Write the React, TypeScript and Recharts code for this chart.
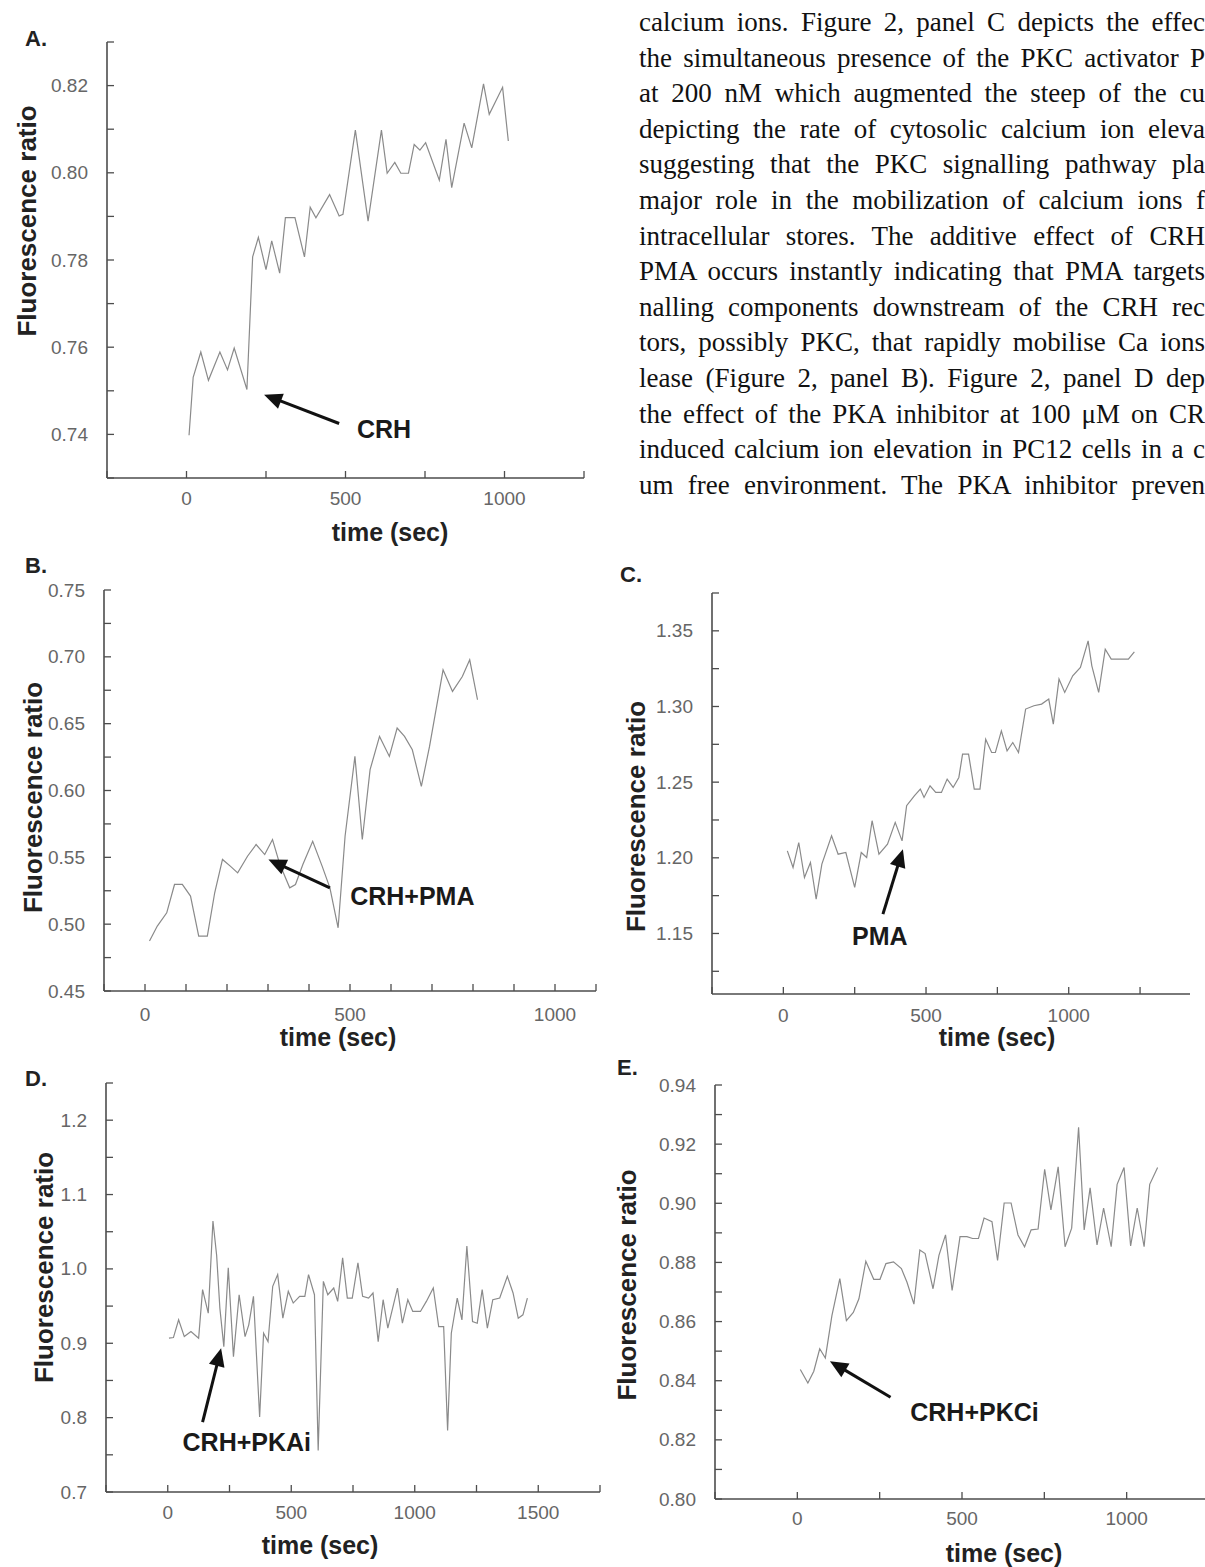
import React from "react";
import { LineChart, Line, XAxis, YAxis, ReferenceLine, ReferenceDot } from "recharts";

// ---- panel A: CRH ----
const timeA = [8, 21, 45, 69, 105, 129, 150, 190, 208, 226, 250, 268, 293, 311, 341, 371, 389, 407, 450, 480, 492, 531, 571, 613, 631, 655, 674, 698, 716, 734, 752, 795, 816, 834, 873, 897, 934, 952, 994, 1012];
const ratioA = [0.7398, 0.7531, 0.7589, 0.7524, 0.7589, 0.7548, 0.7598, 0.7503, 0.7807, 0.7852, 0.7778, 0.7844, 0.777, 0.7897, 0.7897, 0.7807, 0.7921, 0.7897, 0.795, 0.7901, 0.7905, 0.8098, 0.7889, 0.8098, 0.7999, 0.8024, 0.7999, 0.7999, 0.8065, 0.8052, 0.8069, 0.7983, 0.8077, 0.7966, 0.8114, 0.8057, 0.8204, 0.8134, 0.8196, 0.8073];
const xTicksA = [-250, 0, 250, 500, 750, 1000, 1250];
const yTicksA = [0.73, 0.74, 0.75, 0.76, 0.77, 0.78, 0.79, 0.8, 0.81, 0.82, 0.83];
const yLabelsA = [0.74, 0.76, 0.78, 0.8, 0.82];

// ---- panel B: CRH+PMA ----
const timeB = [11, 30, 53, 72, 91, 111, 131, 152, 170, 189, 208, 226, 250, 271, 292, 311, 329, 353, 367, 385, 409, 432, 451, 471, 488, 512, 530, 549, 572, 596, 615, 633, 652, 674, 694, 727, 750, 774, 792, 811];
const ratioB = [0.4874, 0.4986, 0.5085, 0.5297, 0.5297, 0.521, 0.4911, 0.4911, 0.5235, 0.5484, 0.5434, 0.5384, 0.5508, 0.5596, 0.5521, 0.5633, 0.5446, 0.5272, 0.5297, 0.5446, 0.562, 0.5434, 0.5272, 0.4973, 0.5658, 0.6255, 0.5633, 0.6156, 0.6405, 0.6255, 0.6467, 0.6405, 0.6305, 0.6031, 0.633, 0.6903, 0.6741, 0.6853, 0.6978, 0.6679];
const xTicksB = [-100, 0, 100, 200, 300, 400, 500, 600, 700, 800, 900, 1000, 1100];
const yTicksB = [0.45, 0.475, 0.5, 0.525, 0.55, 0.575, 0.6, 0.625, 0.65, 0.675, 0.7, 0.725, 0.75];
const yLabelsB = [0.45, 0.5, 0.55, 0.6, 0.65, 0.7, 0.75];

// ---- panel C: PMA ----
const timeC = [14, 34, 54, 74, 95, 115, 135, 169, 192, 219, 250, 273, 292, 311, 335, 365, 392, 416, 432, 459, 480, 493, 514, 534, 554, 574, 595, 615, 628, 649, 669, 689, 709, 730, 743, 764, 784, 804, 824, 849, 878, 905, 930, 946, 966, 986, 1014, 1041, 1068, 1081, 1105, 1128, 1149, 1176, 1209, 1230];
const ratioC = [1.2046, 1.1936, 1.2101, 1.187, 1.1969, 1.1727, 1.1958, 1.2145, 1.2024, 1.2035, 1.1804, 1.2035, 1.2002, 1.2245, 1.2024, 1.209, 1.2234, 1.2112, 1.2344, 1.241, 1.2454, 1.2399, 1.2476, 1.2432, 1.2432, 1.252, 1.2465, 1.2531, 1.2685, 1.2685, 1.2454, 1.2454, 1.2784, 1.2696, 1.2696, 1.2839, 1.2707, 1.2762, 1.2696, 1.2983, 1.3005, 1.3016, 1.3049, 1.2883, 1.3181, 1.3093, 1.3203, 1.3258, 1.3434, 1.3269, 1.3093, 1.3379, 1.3313, 1.3313, 1.3313, 1.3361];
const xTicksC = [-250, 0, 250, 500, 750, 1000, 1250];
const yTicksC = [1.125, 1.15, 1.175, 1.2, 1.225, 1.25, 1.275, 1.3, 1.325, 1.35, 1.375];
const yLabelsC = [1.15, 1.2, 1.25, 1.3, 1.35];

// ---- panel D: CRH+PKAi ----
const timeD = [5, 23, 44, 67, 94, 125, 141, 164, 183, 198, 211, 227, 245, 266, 289, 313, 328, 347, 372, 388, 406, 425, 445, 466, 488, 508, 534, 555, 570, 594, 609, 630, 648, 672, 688, 708, 727, 747, 770, 789, 813, 831, 852, 872, 891, 930, 950, 972, 992, 1023, 1047, 1075, 1097, 1117, 1133, 1148, 1172, 1191, 1211, 1234, 1253, 1273, 1294, 1316, 1344, 1375, 1398, 1419, 1438, 1456];
const ratioD = [0.9068, 0.9077, 0.9315, 0.909, 0.9158, 0.9068, 0.9721, 0.9405, 1.0644, 1.018, 0.9473, 0.8955, 1.0014, 0.882, 0.9653, 0.909, 0.9248, 0.9631, 0.8009, 0.9135, 0.9023, 0.9766, 0.9923, 0.9338, 0.9698, 0.9541, 0.9631, 0.9631, 0.9923, 0.9653, 0.7559, 0.9833, 0.9653, 0.9743, 0.9563, 1.0149, 0.9608, 0.9608, 1.0081, 0.9631, 0.9608, 0.9676, 0.9023, 0.9586, 0.9203, 0.9743, 0.927, 0.9586, 0.9428, 0.9428, 0.9563, 0.9743, 0.9225, 0.9225, 0.7829, 0.9135, 0.9608, 0.9315, 1.0306, 0.9293, 0.927, 0.9721, 0.9203, 0.9586, 0.9608, 0.9901, 0.9676, 0.9338, 0.9383, 0.9608];
const xTicksD = [-250, 0, 250, 500, 750, 1000, 1250, 1500, 1750];
const yTicksD = [0.7, 0.75, 0.8, 0.85, 0.9, 0.95, 1.0, 1.05, 1.1, 1.15, 1.2, 1.25];
const yLabelsD = [0.7, 0.8, 0.9, 1.0, 1.1, 1.2];

// ---- panel E: CRH+PKCi ----
const timeE = [9, 32, 50, 68, 85, 105, 129, 149, 170, 187, 208, 232, 251, 269, 292, 316, 333, 354, 372, 388, 412, 430, 450, 470, 494, 515, 532, 550, 567, 591, 608, 628, 649, 670, 690, 710, 731, 751, 770, 792, 813, 833, 854, 871, 889, 910, 930, 953, 971, 992, 1012, 1032, 1053, 1070, 1094];
const ratioE = [0.8438, 0.8392, 0.8432, 0.8508, 0.8477, 0.862, 0.8745, 0.8603, 0.8631, 0.8677, 0.8804, 0.8743, 0.8743, 0.8796, 0.8802, 0.8779, 0.8733, 0.8659, 0.8842, 0.883, 0.8711, 0.8824, 0.8893, 0.8705, 0.8887, 0.8887, 0.8881, 0.8881, 0.895, 0.8938, 0.8807, 0.9001, 0.9001, 0.8893, 0.8853, 0.891, 0.8913, 0.9115, 0.8978, 0.9123, 0.8853, 0.8916, 0.9257, 0.891, 0.9052, 0.8859, 0.8984, 0.8853, 0.9064, 0.9121, 0.8856, 0.8984, 0.8853, 0.9064, 0.9121];
const xTicksE = [-250, 0, 250, 500, 750, 1000, 1250];
const yTicksE = [0.8, 0.81, 0.82, 0.83, 0.84, 0.85, 0.86, 0.87, 0.88, 0.89, 0.9, 0.91, 0.92, 0.93, 0.94];
const yLabelsE = [0.8, 0.82, 0.84, 0.86, 0.88, 0.9, 0.92, 0.94];

const xLabels = [0, 500, 1000, 1500];

const paragraph = [
  "calcium ions. Figure 2, panel C depicts the effec",
  "the simultaneous presence of the PKC activator P",
  "at 200 nM which augmented the steep of the cu",
  "depicting the rate of cytosolic calcium ion eleva",
  "suggesting that the PKC signalling pathway pla",
  "major role in the mobilization of calcium ions f",
  "intracellular stores. The additive effect of CRH",
  "PMA occurs instantly indicating that PMA targets",
  "nalling components downstream of the CRH rec",
  "tors, possibly PKC, that rapidly mobilise Ca ions",
  "lease (Figure 2, panel B). Figure 2, panel D dep",
  "the effect of the PKA inhibitor at 100 μM on CR",
  "induced calcium ion elevation in PC12 cells in a c",
  "um free environment. The PKA inhibitor preven",
];

const AXIS = "#4d4d4d";
const TRACE = "#8a8a8a";
const SANS = "'Liberation Sans', Arial, sans-serif";

type Pt = [number, number];
type Rect = { l: number; t: number; r: number; b: number };

type Panel = {
  letter: string;
  letterPos: Pt;
  times: number[];
  ratios: number[];
  xDomain: Pt;
  xTicks: number[];
  yDomain: Pt;
  yTicks: number[];
  yLabels: number[];
  digits: number;
  plot: Rect;
  tickDy: number;
  title: Pt; // offset from plot left / plot bottom
  yLabel: Pt; // offset from plot left / plot middle
  arrow: [Pt, Pt];
  note: string;
  noteAt: Pt;
};

const panels: Panel[] = [
  {
    letter: "A.", letterPos: [25, 26], times: timeA, ratios: ratioA,
    xDomain: [-250, 1250], xTicks: xTicksA, yDomain: [0.73, 0.83], yTicks: yTicksA, yLabels: yLabelsA, digits: 2,
    plot: { l: 107, t: 42, r: 584, b: 478 }, tickDy: 20, title: [283, 54], yLabel: [-80, -39],
    arrow: [[480, 0.7425], [244, 0.7491]], note: "CRH", noteAt: [621, 0.7413],
  },
  {
    letter: "B.", letterPos: [25, 553], times: timeB, ratios: ratioB,
    xDomain: [-100, 1100], xTicks: xTicksB, yDomain: [0.45, 0.75], yTicks: yTicksB, yLabels: yLabelsB, digits: 2,
    plot: { l: 104, t: 590, r: 596, b: 991 }, tickDy: 23, title: [234, 46], yLabel: [-71, 7],
    arrow: [[451, 0.5272], [301, 0.5484]], note: "CRH+PMA", noteAt: [652, 0.521],
  },
  {
    letter: "C.", letterPos: [620, 562], times: timeC, ratios: ratioC,
    xDomain: [-250, 1425], xTicks: xTicksC, yDomain: [1.11, 1.375], yTicks: yTicksC, yLabels: yLabelsC, digits: 2,
    plot: { l: 712, t: 593, r: 1190, b: 994 }, tickDy: 21, title: [285, 43], yLabel: [-76, 23],
    arrow: [[349, 1.1628], [419, 1.2057]], note: "PMA", noteAt: [338, 1.1485],
  },
  {
    letter: "D.", letterPos: [25, 1066], times: timeD, ratios: ratioD,
    xDomain: [-250, 1750], xTicks: xTicksD, yDomain: [0.7, 1.25], yTicks: yTicksD, yLabels: yLabelsD, digits: 1,
    plot: { l: 106, t: 1083, r: 600, b: 1492 }, tickDy: 20, title: [214, 53], yLabel: [-62, -20],
    arrow: [[141, 0.7941], [216, 0.8932]], note: "CRH+PKAi", noteAt: [320, 0.767],
  },
  {
    letter: "E.", letterPos: [617, 1055], times: timeE, ratios: ratioE,
    xDomain: [-250, 1250], xTicks: xTicksE, yDomain: [0.8, 0.94], yTicks: yTicksE, yLabels: yLabelsE, digits: 2,
    plot: { l: 715, t: 1085, r: 1209, b: 1499 }, tickDy: 19, title: [289, 54], yLabel: [-88, -7],
    arrow: [[283, 0.8344], [99, 0.8466]], note: "CRH+PKCi", noteAt: [538, 0.8295],
  },
];

const Y_W = 104;
const X_H = 80;
const M_T = 10;
const M_R = 10;

const has = (list: number[], v: number) => list.some((l) => Math.abs(l - v) < 1e-6);

const ArrowShape = (p: any) => {
  const { x1, y1, x2, y2 } = p;
  const dx = x2 - x1;
  const dy = y2 - y1;
  const len = Math.hypot(dx, dy) || 1;
  const ux = dx / len;
  const uy = dy / len;
  const hl = 18;
  const hw = 8;
  const bx = x2 - ux * hl;
  const by = y2 - uy * hl;
  const pts = `${x2},${y2} ${bx - uy * hw},${by + ux * hw} ${bx + uy * hw},${by - ux * hw}`;
  return (
    <g>
      <line x1={x1} y1={y1} x2={bx + ux * 2} y2={by + uy * 2} stroke="#111" strokeWidth={3} />
      <polygon points={pts} fill="#111" />
    </g>
  );
};

const PanelChart: React.FC<{ cfg: Panel }> = ({ cfg }) => {
  const { plot } = cfg;
  const left = plot.l - Y_W;
  const top = plot.t - M_T;
  const width = Y_W + (plot.r - plot.l) + M_R;
  const height = M_T + (plot.b - plot.t) + X_H;
  const data = cfg.times.map((t, i) => ({ t, r: cfg.ratios[i] }));
  const plotH = plot.b - plot.t;

  const yTick = (p: any) => {
    const v = p.payload.value;
    return (
      <g>
        <line x1={p.x} x2={p.x + 7} y1={p.y} y2={p.y} stroke={AXIS} strokeWidth={1.3} />
        {has(cfg.yLabels, v) && (
          <text x={p.x - 19} y={p.y} textAnchor="end" dominantBaseline="central" fontSize={19} fill="#666" fontFamily={SANS}>
            {v.toFixed(cfg.digits)}
          </text>
        )}
      </g>
    );
  };

  const xTick = (p: any) => {
    const v = p.payload.value;
    return (
      <g>
        <line x1={p.x} x2={p.x} y1={p.y} y2={p.y - 7} stroke={AXIS} strokeWidth={1.3} />
        {has(xLabels, v) && (
          <text x={p.x} y={p.y + cfg.tickDy} textAnchor="middle" dominantBaseline="central" fontSize={19} fill="#666" fontFamily={SANS}>
            {v}
          </text>
        )}
      </g>
    );
  };

  const xTitle = (p: any) => {
    const vb = p.viewBox;
    return (
      <text x={vb.x + cfg.title[0]} y={vb.y + cfg.title[1]} textAnchor="middle" dominantBaseline="central" fontSize={25} fontWeight="bold" fill="#222" fontFamily={SANS}>
        time (sec)
      </text>
    );
  };

  const yTitle = (p: any) => {
    const vb = p.viewBox;
    const x = vb.x + vb.width + cfg.yLabel[0];
    const y = vb.y + plotH / 2 + cfg.yLabel[1];
    return (
      <text x={x} y={y} transform={`rotate(-90 ${x} ${y})`} textAnchor="middle" dominantBaseline="central" fontSize={26} fontWeight="bold" fill="#222" fontFamily={SANS}>
        Fluorescence ratio
      </text>
    );
  };

  const noteShape = (p: any) => (
    <text x={p.cx} y={p.cy} textAnchor="middle" dominantBaseline="central" fontSize={25} fontWeight="bold" fill="#1a1a1a" fontFamily={SANS}>
      {cfg.note}
    </text>
  );

  return (
    <div style={{ position: "absolute", left, top, width, height }}>
      <LineChart width={width} height={height} data={data} margin={{ top: M_T, right: M_R, left: 0, bottom: 0 }}>
        <XAxis
          dataKey="t"
          type="number"
          domain={cfg.xDomain}
          ticks={cfg.xTicks}
          allowDataOverflow
          interval={0}
          height={X_H}
          tickSize={0}
          tickMargin={0}
          tickLine={false}
          axisLine={{ stroke: AXIS, strokeWidth: 1.6 }}
          tick={xTick}
          label={{ content: xTitle }}
        />
        <YAxis
          type="number"
          domain={cfg.yDomain}
          ticks={cfg.yTicks}
          allowDataOverflow
          interval={0}
          width={Y_W}
          tickSize={0}
          tickMargin={0}
          tickLine={false}
          axisLine={{ stroke: AXIS, strokeWidth: 1.6 }}
          tick={yTick}
          label={{ content: yTitle }}
        />
        <Line dataKey="r" type="linear" stroke={TRACE} strokeWidth={1.2} dot={false} isAnimationActive={false} />
        <ReferenceLine
          segment={[
            { x: cfg.arrow[0][0], y: cfg.arrow[0][1] },
            { x: cfg.arrow[1][0], y: cfg.arrow[1][1] },
          ]}
          shape={ArrowShape}
        />
        <ReferenceDot x={cfg.noteAt[0]} y={cfg.noteAt[1]} r={0} shape={noteShape} />
      </LineChart>
    </div>
  );
};

export default function App() {
  return (
    <div
      style={{
        position: "absolute",
        left: 0,
        top: 0,
        width: 1205,
        height: 1567,
        overflow: "hidden",
        background: "#fff",
      }}
    >
      {paragraph.map((line, i) => (
        <div
          key={i}
          style={{
            position: "absolute",
            left: 639,
            top: 5 + i * 35.6,
            width: 566,
            height: 34,
            lineHeight: "34px",
            fontFamily: "'Liberation Serif', 'Times New Roman', serif",
            fontSize: 27,
            color: "#111",
            whiteSpace: "nowrap",
            textAlign: "justify",
            textAlignLast: "justify",
            overflow: "hidden",
          }}
        >
          {line}
        </div>
      ))}
      {panels.map((p) => (
        <div
          key={p.letter}
          style={{
            position: "absolute",
            left: p.letterPos[0],
            top: p.letterPos[1],
            fontFamily: SANS,
            fontWeight: "bold",
            fontSize: 22,
            color: "#222",
          }}
        >
          {p.letter}
        </div>
      ))}
      {panels.map((p) => (
        <PanelChart key={p.note} cfg={p} />
      ))}
    </div>
  );
}
